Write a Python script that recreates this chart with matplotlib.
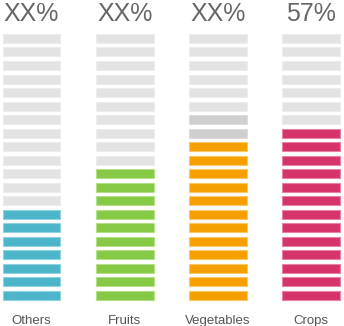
import matplotlib
matplotlib.use("Agg")
import matplotlib.pyplot as plt

categories = ["Others", "Fruits", "Vegetables", "Crops"]
headers = ["XX%", "XX%", "XX%", "57%"]
total_segments = 20
filled = [7, 10, 12, 13]
highlighted = [0, 0, 2, 0]   # darker grey segments above the filled ones
fill_colors = ["#4DB5C9", "#86C944", "#F5A000", "#D6336B"]
edge_colors = ["#8FD3E0", "#B5E08A", "#FAC866", "#E881A3"]
empty_color = "#E3E3E3"
highlight_color = "#CFCFCF"

fig = plt.figure(figsize=(3.44, 3.26), dpi=100)
ax = fig.add_axes([0, 0, 1, 1])
ax.set_xlim(-0.338, 3.353)
ax.set_ylim(-2.254, 21.84)
ax.axis("off")

bar_w = 0.62
bar_h = 0.665
for i, cat in enumerate(categories):
    for j in range(total_segments):
        if j < filled[i]:
            fc, ec = fill_colors[i], edge_colors[i]
        elif j < filled[i] + highlighted[i]:
            fc, ec = highlight_color, "#DDDDDD"
        else:
            fc, ec = empty_color, "#EDEDED"
        ax.bar(i, bar_h, bottom=j - bar_h / 2, width=bar_w, color=fc,
               edgecolor=ec, linewidth=0.8)
    ax.text(i, 20.29, headers[i], ha="center", va="baseline",
            fontsize=18, color="#666666", family="Liberation Sans")
    ax.text(i, -2.08, cat, ha="center", va="baseline",
            fontsize=9.5, color="#555555", family="Liberation Sans")

fig.savefig("out.png", dpi=100)
